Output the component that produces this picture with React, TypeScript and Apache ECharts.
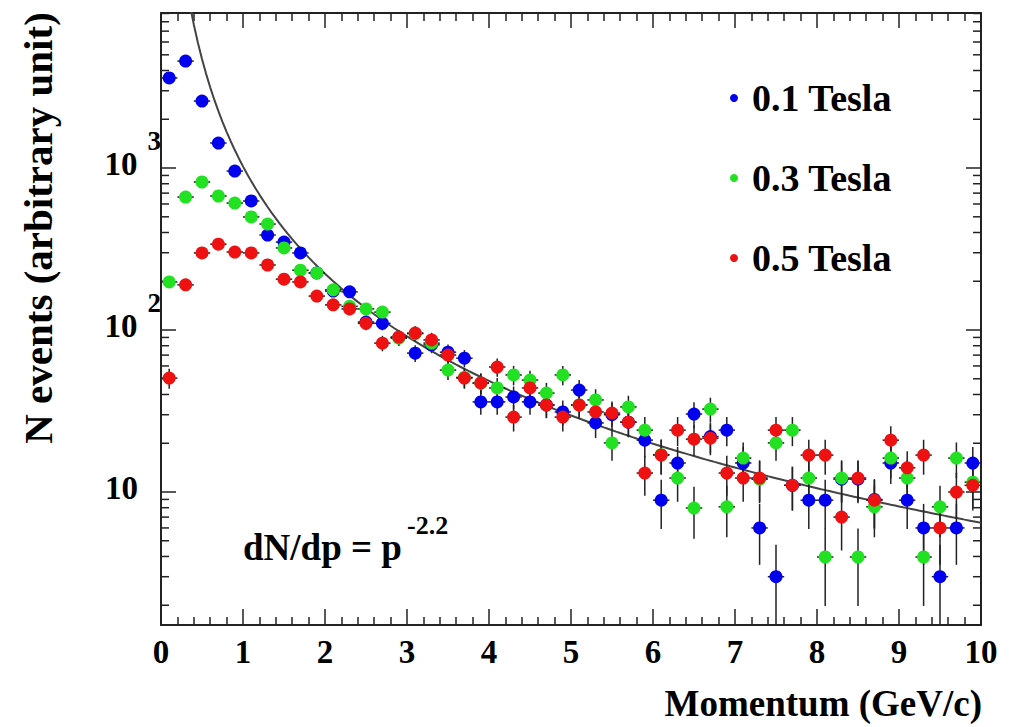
import React, { useEffect, useRef } from 'react';
import * as echarts from 'echarts';

// Bin centres (GeV/c)
const momentum = [
  0.1, 0.3, 0.5, 0.7, 0.9, 1.1, 1.3, 1.5, 1.7, 1.9,
  2.1, 2.3, 2.5, 2.7, 2.9, 3.1, 3.3, 3.5, 3.7, 3.9,
  4.1, 4.3, 4.5, 4.7, 4.9, 5.1, 5.3, 5.5, 5.7, 5.9,
  6.1, 6.3, 6.5, 6.7, 6.9, 7.1, 7.3, 7.5, 7.7, 7.9,
  8.1, 8.3, 8.5, 8.7, 8.9, 9.1, 9.3, 9.5, 9.7, 9.9,
];

const tesla01 = [
  3597, 4575, 2593, 1427, 958, 626, 386, 349, 299, 225,
  174, 172, 112, 110, 90, 72, 81, 73, 67, 36,
  36, 38.6, 36, 34.5, 31.2, 42.6, 26.7, 30, 27, 20.9,
  8.9, 15.1, 30.3, 22, 24.1, 15.1, 6.0, 3.0, 11, 8.9,
  8.9, 12, 12, 9, 15.1, 8.9, 6.0, 3.0, 6.0, 15.1,
];

const tesla03 = [
  198, 662, 820, 672, 608, 499, 451, 321, 234, 225,
  177, 140, 135, 129, 89, 95, 83, 56.6, 51, 47,
  43.9, 52.8, 49.1, 40.8, 52.8, 34.5, 37, 20.1, 33.5, 24.1,
  17, 12.2, 7.96, 32.5, 8.1, 16.2, 12, 20.1, 24.1, 12.2,
  3.97, 12.2, 3.97, 8.1, 16.2, 12.2, 3.97, 8.1, 16.2, 11.5,
];

const tesla05 = [
  50.5, 190, 299, 339, 303, 299, 252, 206, 198, 162,
  143, 135, 110, 83, 90.5, 95.8, 86.8, 70.1, 50.5, 47.1,
  59.1, 29.0, 43.9, 34.4, 29.0, 34.4, 31.2, 30.7, 27.0, 13.1,
  16.9, 24.1, 21.2, 21.5, 13.1, 12.2, 12.2, 24.1, 11.0, 16.9,
  16.9, 7.0, 12.2, 8.9, 20.9, 14.1, 16.9, 6.0, 10.0, 11.0,
];

const seriesNames = ['0.1 Tesla', '0.3 Tesla', '0.5 Tesla'];
const seriesColors = ['#0000ee', '#22e022', '#ee1111'];

// fit dN/dp = A * p^-2.2
const fitNorm = 1024;
const fitIndex = -2.2;

// log-axis minor tick values
const logMinorTicks = [
  2, 3, 4, 5, 6, 7, 8, 9,
  20, 30, 40, 50, 60, 70, 80, 90,
  200, 300, 400, 500, 600, 700, 800, 900,
  2000, 3000, 4000, 5000, 6000, 7000, 8000, 9000,
];

const yMin = 1.51;
const yMax = 9060;

const FONT = 'Liberation Serif';

export default function App() {
  const ref = useRef<HTMLDivElement>(null);

  useEffect(() => {
    if (!ref.current) return;
    const chart = echarts.init(ref.current, null, { renderer: 'svg' });

    const sets = [tesla01, tesla03, tesla05];
    const series: any[] = [];

    // fit curve dN/dp = A p^-2.2
    const fitP: number[] = [];
    for (let p = 0.3; p <= 10.0001; p += 0.05) fitP.push(+p.toFixed(3));
    series.push({
      type: 'line',
      name: 'fit',
      data: fitP.map((p) => [p, fitNorm * Math.pow(p, fitIndex)]),
      showSymbol: false,
      symbol: 'none',
      clip: true,
      lineStyle: { color: '#444', width: 2 },
      silent: true,
      z: 1,
    });

    // log minor ticks on left and right frame
    series.push({
      type: 'custom',
      name: 'minorTicks',
      silent: true,
      data: logMinorTicks.map((v) => [0, v]),
      encode: { x: 0, y: 1 },
      renderItem: (params: any, api: any) => {
        const cs = params.coordSys;
        const y = api.coord([0, api.value(1)])[1];
        return {
          type: 'group',
          children: [
            { type: 'line', shape: { x1: cs.x, y1: y, x2: cs.x + 8, y2: y }, style: { stroke: '#222', lineWidth: 1.5 } },
            { type: 'line', shape: { x1: cs.x + cs.width - 8, y1: y, x2: cs.x + cs.width, y2: y }, style: { stroke: '#222', lineWidth: 1.5 } },
          ],
        };
      },
      z: 2,
    });

    sets.forEach((vals, i) => {
      // Poisson error bars (sqrt N) and half-bin horizontal bars
      series.push({
        type: 'custom',
        name: seriesNames[i] + ' errors',
        silent: true,
        data: momentum.map((m, j) => [m, vals[j], Math.sqrt(vals[j])]),
        encode: { x: 0, y: 1 },
        renderItem: (params: any, api: any) => {
          const cs = params.coordSys;
          const x = api.value(0);
          const v = api.value(1);
          const e = api.value(2);
          const top = api.coord([x, v + e]);
          const bot = api.coord([x, Math.max(v - e, 1e-3)]);
          const yTop = Math.max(top[1], cs.y);
          const yBot = Math.min(bot[1], cs.y + cs.height);
          const l = api.coord([x - 0.1, v]);
          const r = api.coord([x + 0.1, v]);
          return {
            type: 'group',
            children: [
              { type: 'line', shape: { x1: top[0], y1: yTop, x2: top[0], y2: yBot }, style: { stroke: '#222', lineWidth: 1.5 } },
              { type: 'line', shape: { x1: l[0], y1: l[1], x2: r[0], y2: r[1] }, style: { stroke: '#222', lineWidth: 1.5 } },
            ],
          };
        },
        z: 3,
      });
      series.push({
        type: 'scatter',
        name: seriesNames[i],
        data: momentum.map((m, j) => [m, vals[j]]),
        symbol: 'circle',
        symbolSize: 13,
        itemStyle: { color: seriesColors[i], opacity: 1 },
        z: 3,
      });
    });

    const labelBase = { fontSize: 33, fontWeight: 'bold', fontFamily: FONT, color: '#000' };

    chart.setOption({
      animation: false,
      backgroundColor: '#fff',
      color: seriesColors,
      textStyle: { fontFamily: FONT },
      grid: { left: 161, top: 13, width: 820, height: 612, containLabel: false },
      legend: {
        data: seriesNames,
        orient: 'vertical',
        left: 725,
        top: 73,
        icon: 'circle',
        itemWidth: 26,
        itemHeight: 8,
        itemGap: 40,
        selectedMode: false,
        textStyle: { fontSize: 38, fontWeight: 'bold', fontFamily: FONT, color: '#000', lineHeight: 40 },
      },
      xAxis: [
        {
          type: 'value',
          min: 0,
          max: 10,
          interval: 1,
          position: 'bottom',
          axisLine: { show: true, onZero: false, lineStyle: { color: '#222', width: 2 } },
          axisTick: { show: true, inside: true, length: 16, lineStyle: { color: '#222', width: 1.5 } },
          minorTick: { show: true, splitNumber: 5, length: 8, lineStyle: { color: '#222', width: 1.5 } },
          splitLine: { show: false },
          axisLabel: { margin: 10, fontSize: 33, fontWeight: 'bold', fontFamily: FONT, color: '#000' },
        },
        {
          type: 'value',
          min: 0,
          max: 10,
          interval: 1,
          position: 'top',
          axisLine: { show: true, onZero: false, lineStyle: { color: '#222', width: 2 } },
          axisTick: { show: true, inside: true, length: 15, lineStyle: { color: '#222', width: 1.5 } },
          minorTick: { show: true, splitNumber: 5, length: 8, lineStyle: { color: '#222', width: 1.5 } },
          splitLine: { show: false },
          axisLabel: { show: false },
        },
      ],
      yAxis: [
        {
          type: 'log',
          logBase: 10,
          min: yMin,
          max: yMax,
          position: 'left',
          axisLine: { show: true, onZero: false, lineStyle: { color: '#222', width: 2 } },
          axisTick: { show: true, inside: true, length: 15, lineStyle: { color: '#222', width: 1.5 } },
          splitLine: { show: false },
          axisLabel: {
            margin: 0,
            showMinLabel: false,
            showMaxLabel: false,
            padding: [0, 0, 8, 0],
            formatter: (v: number) => {
              const e = Math.round(Math.log10(v));
              if (Math.abs(v - Math.pow(10, e)) > 1e-6 * v) return '';
              if (e === 1) return '{p|10}';
              return '{b|10}{s|' + e + '}';
            },
            rich: {
              b: { ...labelBase, lineHeight: 33, verticalAlign: 'middle' },
              p: { ...labelBase, lineHeight: 33, verticalAlign: 'middle', padding: [0, 23, 0, 0] },
              s: { ...labelBase, fontSize: 27, lineHeight: 26, verticalAlign: 'middle', padding: [0, 0, 46, 10] },
            },
          },
        },
        {
          type: 'log',
          logBase: 10,
          min: yMin,
          max: yMax,
          position: 'right',
          axisLine: { show: true, onZero: false, lineStyle: { color: '#222', width: 2 } },
          axisTick: { show: true, inside: true, length: 15, lineStyle: { color: '#222', width: 1.5 } },
          splitLine: { show: false },
          axisLabel: { show: false },
        },
      ],
      graphic: [
        {
          type: 'text',
          x: 38,
          y: 228,
          rotation: Math.PI / 2,
          style: {
            text: 'N events (arbitrary unit)',
            fill: '#000',
            fontSize: 41,
            fontWeight: 'bold',
            fontFamily: FONT,
            textAlign: 'center',
            textVerticalAlign: 'middle',
          },
        },
        {
          type: 'text',
          x: 982,
          y: 703,
          style: {
            text: 'Momentum (GeV/c)',
            fill: '#000',
            fontSize: 37,
            fontWeight: 'bold',
            fontFamily: FONT,
            textAlign: 'right',
            textVerticalAlign: 'middle',
          },
        },
        {
          type: 'text',
          x: 243,
          y: 547,
          style: {
            text: 'dN/dp = p',
            fill: '#000',
            fontSize: 37,
            fontWeight: 'bold',
            fontFamily: FONT,
            textAlign: 'left',
            textVerticalAlign: 'middle',
          },
        },
        {
          type: 'text',
          x: 407,
          y: 525,
          style: {
            text: '-2.2',
            fill: '#000',
            fontSize: 26,
            fontWeight: 'bold',
            fontFamily: FONT,
            textAlign: 'left',
            textVerticalAlign: 'middle',
          },
        },
      ],
      series,
    });

    return () => {
      chart.dispose();
    };
  }, []);

  return (
    <div
      ref={ref}
      style={{ position: 'fixed', left: 0, top: 0, width: 1015, height: 727, background: '#fff' }}
    />
  );
}
